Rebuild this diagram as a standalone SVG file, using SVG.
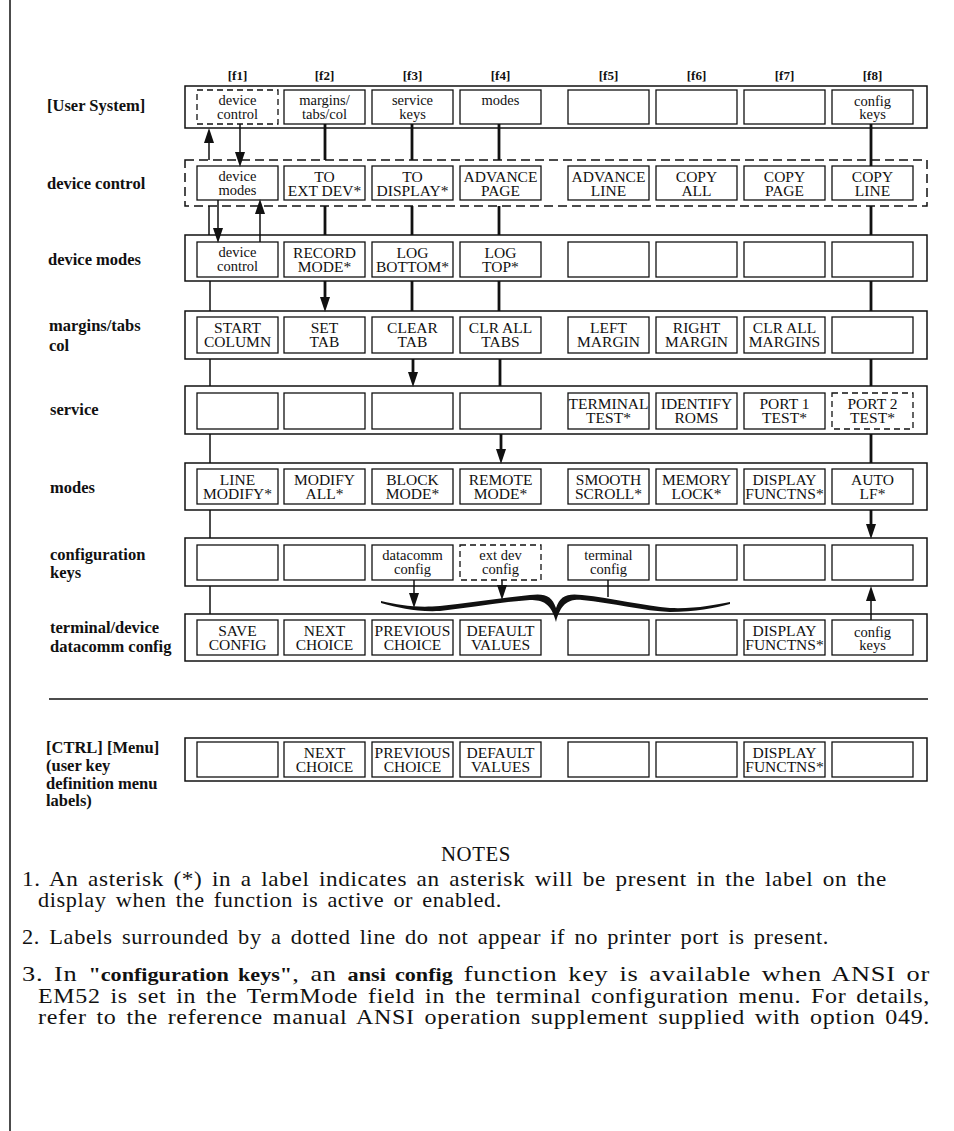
<svg xmlns="http://www.w3.org/2000/svg" width="954" height="1131" viewBox="0 0 954 1131">
<style>
text{font-family:"Liberation Serif","Times New Roman",serif;fill:#111}
.rl{font-size:16.5px;font-weight:bold}
.f{font-size:13px;font-weight:bold;text-anchor:middle}
.u{font-size:15.5px;text-anchor:middle}
.l{font-size:14.5px;text-anchor:middle}
.n{font-size:22px;letter-spacing:0.6px;word-spacing:3px}
.b{font-weight:bold;font-size:18.5px;letter-spacing:0}
.k{fill:none;stroke:#111;stroke-width:1.3}
.o{fill:none;stroke:#111;stroke-width:1.5}
.d{stroke-dasharray:6 4}
.od{stroke-dasharray:9 5}
.tn{stroke:#111;stroke-width:1.5;fill:none}
.tk{stroke:#111;stroke-width:2.8;fill:none}
.ar{marker-end:url(#ah)}
</style>
<defs>
<marker id="ah" markerUnits="userSpaceOnUse" markerWidth="15" markerHeight="10" refX="6" refY="5" orient="auto">
<path d="M0,0 L15,5 L0,10 z" fill="#111"/>
</marker>
</defs>
<rect width="954" height="1131" fill="#fff"/>
<line x1="10" y1="0" x2="10" y2="1131" class="o"/>

<g id="headers">
<text class="f" x="237.5" y="80">[f1]</text>
<text class="f" x="324.5" y="80">[f2]</text>
<text class="f" x="412.5" y="80">[f3]</text>
<text class="f" x="500.5" y="80">[f4]</text>
<text class="f" x="608.5" y="80">[f5]</text>
<text class="f" x="696.5" y="80">[f6]</text>
<text class="f" x="784.5" y="80">[f7]</text>
<text class="f" x="872.5" y="80">[f8]</text>
</g>

<g id="row-user-system">
<text class="rl" x="47" y="111">[User System]</text>
<rect class="o" x="185" y="86" width="742" height="42"/>
<g id="us1"><rect class="k d" x="197" y="90" width="81" height="34"/><text class="l" x="237.5" y="105">device</text><text class="l" x="237.5" y="119">control</text></g>
<g id="us2"><rect class="k" x="284" y="90" width="81" height="34"/><text class="l" x="324.5" y="105">margins/</text><text class="l" x="324.5" y="119">tabs/col</text></g>
<g id="us3"><rect class="k" x="372" y="90" width="81" height="34"/><text class="l" x="412.5" y="105">service</text><text class="l" x="412.5" y="119">keys</text></g>
<g id="us4"><rect class="k" x="460" y="90" width="81" height="34"/><text class="l" x="500.5" y="105">modes</text></g>
<g id="us5"><rect class="k" x="568" y="90" width="81" height="34"/></g>
<g id="us6"><rect class="k" x="656" y="90" width="81" height="34"/></g>
<g id="us7"><rect class="k" x="744" y="90" width="81" height="34"/></g>
<g id="us8"><rect class="k" x="832" y="90" width="81" height="34"/><text class="l" x="872.5" y="106">config</text><text class="l" x="872.5" y="119">keys</text></g>
</g>

<g id="row-device-control">
<text class="rl" x="47" y="189">device control</text>
<rect class="o od" x="185" y="160" width="742" height="46"/>
<g id="dc1"><rect class="k" x="197" y="166" width="81" height="34"/><text class="l" x="237.5" y="181">device</text><text class="l" x="237.5" y="195">modes</text></g>
<g id="dc2"><rect class="k" x="284" y="166" width="81" height="34"/><text class="u" x="324.5" y="182">TO</text><text class="u" x="324.5" y="196">EXT DEV*</text></g>
<g id="dc3"><rect class="k" x="372" y="166" width="81" height="34"/><text class="u" x="412.5" y="182">TO</text><text class="u" x="412.5" y="196">DISPLAY*</text></g>
<g id="dc4"><rect class="k" x="460" y="166" width="81" height="34"/><text class="u" x="500.5" y="182">ADVANCE</text><text class="u" x="500.5" y="196">PAGE</text></g>
<g id="dc5"><rect class="k" x="568" y="166" width="81" height="34"/><text class="u" x="608.5" y="182">ADVANCE</text><text class="u" x="608.5" y="196">LINE</text></g>
<g id="dc6"><rect class="k" x="656" y="166" width="81" height="34"/><text class="u" x="696.5" y="182">COPY</text><text class="u" x="696.5" y="196">ALL</text></g>
<g id="dc7"><rect class="k" x="744" y="166" width="81" height="34"/><text class="u" x="784.5" y="182">COPY</text><text class="u" x="784.5" y="196">PAGE</text></g>
<g id="dc8"><rect class="k" x="832" y="166" width="81" height="34"/><text class="u" x="872.5" y="182">COPY</text><text class="u" x="872.5" y="196">LINE</text></g>
</g>

<g id="row-device-modes">
<text class="rl" x="48" y="265">device modes</text>
<rect class="o" x="185" y="235" width="742" height="46"/>
<g id="dm1"><rect class="k" x="197" y="242" width="81" height="35"/><text class="l" x="237.5" y="257">device</text><text class="l" x="237.5" y="271">control</text></g>
<g id="dm2"><rect class="k" x="284" y="242" width="81" height="35"/><text class="u" x="324.5" y="258">RECORD</text><text class="u" x="324.5" y="272">MODE*</text></g>
<g id="dm3"><rect class="k" x="372" y="242" width="81" height="35"/><text class="u" x="412.5" y="258">LOG</text><text class="u" x="412.5" y="272">BOTTOM*</text></g>
<g id="dm4"><rect class="k" x="460" y="242" width="81" height="35"/><text class="u" x="500.5" y="258">LOG</text><text class="u" x="500.5" y="272">TOP*</text></g>
<g id="dm5"><rect class="k" x="568" y="242" width="81" height="35"/></g>
<g id="dm6"><rect class="k" x="656" y="242" width="81" height="35"/></g>
<g id="dm7"><rect class="k" x="744" y="242" width="81" height="35"/></g>
<g id="dm8"><rect class="k" x="832" y="242" width="81" height="35"/></g>
</g>

<g id="row-margins">
<text class="rl" x="49" y="331">margins/tabs</text>
<text class="rl" x="49" y="351">col</text>
<rect class="o" x="185" y="311" width="742" height="48"/>
<g id="mt1"><rect class="k" x="197" y="317" width="81" height="36"/><text class="u" x="237.5" y="333">START</text><text class="u" x="237.5" y="347">COLUMN</text></g>
<g id="mt2"><rect class="k" x="284" y="317" width="81" height="36"/><text class="u" x="324.5" y="333">SET</text><text class="u" x="324.5" y="347">TAB</text></g>
<g id="mt3"><rect class="k" x="372" y="317" width="81" height="36"/><text class="u" x="412.5" y="333">CLEAR</text><text class="u" x="412.5" y="347">TAB</text></g>
<g id="mt4"><rect class="k" x="460" y="317" width="81" height="36"/><text class="u" x="500.5" y="333">CLR ALL</text><text class="u" x="500.5" y="347">TABS</text></g>
<g id="mt5"><rect class="k" x="568" y="317" width="81" height="36"/><text class="u" x="608.5" y="333">LEFT</text><text class="u" x="608.5" y="347">MARGIN</text></g>
<g id="mt6"><rect class="k" x="656" y="317" width="81" height="36"/><text class="u" x="696.5" y="333">RIGHT</text><text class="u" x="696.5" y="347">MARGIN</text></g>
<g id="mt7"><rect class="k" x="744" y="317" width="81" height="36"/><text class="u" x="784.5" y="333">CLR ALL</text><text class="u" x="784.5" y="347">MARGINS</text></g>
<g id="mt8"><rect class="k" x="832" y="317" width="81" height="36"/></g>
</g>

<g id="row-service">
<text class="rl" x="50" y="415">service</text>
<rect class="o" x="185" y="386" width="742" height="48"/>
<g id="sv1"><rect class="k" x="197" y="393" width="81" height="36"/></g>
<g id="sv2"><rect class="k" x="284" y="393" width="81" height="36"/></g>
<g id="sv3"><rect class="k" x="372" y="393" width="81" height="36"/></g>
<g id="sv4"><rect class="k" x="460" y="393" width="81" height="36"/></g>
<g id="sv5"><rect class="k" x="568" y="393" width="81" height="36"/><text class="u" x="608.5" y="409">TERMINAL</text><text class="u" x="608.5" y="423">TEST*</text></g>
<g id="sv6"><rect class="k" x="656" y="393" width="81" height="36"/><text class="u" x="696.5" y="409">IDENTIFY</text><text class="u" x="696.5" y="423">ROMS</text></g>
<g id="sv7"><rect class="k" x="744" y="393" width="81" height="36"/><text class="u" x="784.5" y="409">PORT 1</text><text class="u" x="784.5" y="423">TEST*</text></g>
<g id="sv8"><rect class="k d" x="832" y="393" width="81" height="36"/><text class="u" x="872.5" y="409">PORT 2</text><text class="u" x="872.5" y="423">TEST*</text></g>
</g>

<g id="row-modes">
<text class="rl" x="50" y="493">modes</text>
<rect class="o" x="185" y="463" width="742" height="47"/>
<g id="md1"><rect class="k" x="197" y="469" width="81" height="35"/><text class="u" x="237.5" y="485">LINE</text><text class="u" x="237.5" y="499">MODIFY*</text></g>
<g id="md2"><rect class="k" x="284" y="469" width="81" height="35"/><text class="u" x="324.5" y="485">MODIFY</text><text class="u" x="324.5" y="499">ALL*</text></g>
<g id="md3"><rect class="k" x="372" y="469" width="81" height="35"/><text class="u" x="412.5" y="485">BLOCK</text><text class="u" x="412.5" y="499">MODE*</text></g>
<g id="md4"><rect class="k" x="460" y="469" width="81" height="35"/><text class="u" x="500.5" y="485">REMOTE</text><text class="u" x="500.5" y="499">MODE*</text></g>
<g id="md5"><rect class="k" x="568" y="469" width="81" height="35"/><text class="u" x="608.5" y="485">SMOOTH</text><text class="u" x="608.5" y="499">SCROLL*</text></g>
<g id="md6"><rect class="k" x="656" y="469" width="81" height="35"/><text class="u" x="696.5" y="485">MEMORY</text><text class="u" x="696.5" y="499">LOCK*</text></g>
<g id="md7"><rect class="k" x="744" y="469" width="81" height="35"/><text class="u" x="784.5" y="485">DISPLAY</text><text class="u" x="784.5" y="499">FUNCTNS*</text></g>
<g id="md8"><rect class="k" x="832" y="469" width="81" height="35"/><text class="u" x="872.5" y="485">AUTO</text><text class="u" x="872.5" y="499">LF*</text></g>
</g>

<g id="row-config-keys">
<text class="rl" x="50" y="560">configuration</text>
<text class="rl" x="50" y="578">keys</text>
<rect class="o" x="185" y="538" width="742" height="48"/>
<g id="ck1"><rect class="k" x="197" y="545" width="81" height="35"/></g>
<g id="ck2"><rect class="k" x="284" y="545" width="81" height="35"/></g>
<g id="ck3"><rect class="k" x="372" y="545" width="81" height="35"/><text class="l" x="412.5" y="560">datacomm</text><text class="l" x="412.5" y="574">config</text></g>
<g id="ck4"><rect class="k d" x="460" y="545" width="81" height="35"/><text class="l" x="500.5" y="560">ext dev</text><text class="l" x="500.5" y="574">config</text></g>
<g id="ck5"><rect class="k" x="568" y="545" width="81" height="35"/><text class="l" x="608.5" y="560">terminal</text><text class="l" x="608.5" y="574">config</text></g>
<g id="ck6"><rect class="k" x="656" y="545" width="81" height="35"/></g>
<g id="ck7"><rect class="k" x="744" y="545" width="81" height="35"/></g>
<g id="ck8"><rect class="k" x="832" y="545" width="81" height="35"/></g>
</g>

<g id="row-terminal-device">
<text class="rl" x="50" y="633">terminal/device</text>
<text class="rl" x="50" y="652">datacomm config</text>
<rect class="o" x="185" y="614" width="742" height="47"/>
<g id="td1"><rect class="k" x="197" y="620" width="81" height="35"/><text class="u" x="237.5" y="636">SAVE</text><text class="u" x="237.5" y="650">CONFIG</text></g>
<g id="td2"><rect class="k" x="284" y="620" width="81" height="35"/><text class="u" x="324.5" y="636">NEXT</text><text class="u" x="324.5" y="650">CHOICE</text></g>
<g id="td3"><rect class="k" x="372" y="620" width="81" height="35"/><text class="u" x="412.5" y="636">PREVIOUS</text><text class="u" x="412.5" y="650">CHOICE</text></g>
<g id="td4"><rect class="k" x="460" y="620" width="81" height="35"/><text class="u" x="500.5" y="636">DEFAULT</text><text class="u" x="500.5" y="650">VALUES</text></g>
<g id="td5"><rect class="k" x="568" y="620" width="81" height="35"/></g>
<g id="td6"><rect class="k" x="656" y="620" width="81" height="35"/></g>
<g id="td7"><rect class="k" x="744" y="620" width="81" height="35"/><text class="u" x="784.5" y="636">DISPLAY</text><text class="u" x="784.5" y="650">FUNCTNS*</text></g>
<g id="td8"><rect class="k" x="832" y="620" width="81" height="35"/><text class="l" x="872.5" y="637">config</text><text class="l" x="872.5" y="650">keys</text></g>
</g>

<line x1="49" y1="699" x2="928" y2="699" class="o"/>

<g id="row-ctrl-menu">
<text class="rl" x="46" y="753">[CTRL] [Menu]</text>
<text class="rl" x="46" y="771">(user key</text>
<text class="rl" x="46" y="789">definition menu</text>
<text class="rl" x="46" y="806">labels)</text>
<rect class="o" x="185" y="738" width="742" height="43"/>
<g id="cm1"><rect class="k" x="197" y="742" width="81" height="35"/></g>
<g id="cm2"><rect class="k" x="284" y="742" width="81" height="35"/><text class="u" x="324.5" y="758">NEXT</text><text class="u" x="324.5" y="772">CHOICE</text></g>
<g id="cm3"><rect class="k" x="372" y="742" width="81" height="35"/><text class="u" x="412.5" y="758">PREVIOUS</text><text class="u" x="412.5" y="772">CHOICE</text></g>
<g id="cm4"><rect class="k" x="460" y="742" width="81" height="35"/><text class="u" x="500.5" y="758">DEFAULT</text><text class="u" x="500.5" y="772">VALUES</text></g>
<g id="cm5"><rect class="k" x="568" y="742" width="81" height="35"/></g>
<g id="cm6"><rect class="k" x="656" y="742" width="81" height="35"/></g>
<g id="cm7"><rect class="k" x="744" y="742" width="81" height="35"/><text class="u" x="784.5" y="758">DISPLAY</text><text class="u" x="784.5" y="772">FUNCTNS*</text></g>
<g id="cm8"><rect class="k" x="832" y="742" width="81" height="35"/></g>
</g>

<g id="connectors">
<line class="tn ar" x1="209" y1="160" x2="209" y2="137"/>
<line class="tn ar" x1="240" y1="124" x2="240" y2="158"/>
<line class="tn" x1="209" y1="206" x2="209" y2="235"/>
<line class="tn ar" x1="218" y1="200" x2="218" y2="234"/>
<line class="tn ar" x1="260" y1="242" x2="260" y2="208"/>
<line class="tn" x1="210" y1="281" x2="210" y2="311"/>
<line class="tn" x1="210" y1="359" x2="210" y2="386"/>
<line class="tn" x1="210" y1="434" x2="210" y2="463"/>
<line class="tn" x1="210" y1="510" x2="210" y2="538"/>
<line class="tn" x1="210" y1="586" x2="210" y2="614"/>
<line class="tk" x1="325" y1="124" x2="325" y2="160"/>
<line class="tk" x1="325" y1="206" x2="325" y2="235"/>
<line class="tk ar" x1="325" y1="281" x2="325" y2="303"/>
<line class="tk" x1="412" y1="124" x2="412" y2="160"/>
<line class="tk" x1="412" y1="206" x2="412" y2="235"/>
<line class="tk" x1="412" y1="281" x2="412" y2="311"/>
<line class="tk ar" x1="413" y1="359" x2="413" y2="378"/>
<line class="tk" x1="499" y1="124" x2="499" y2="160"/>
<line class="tk" x1="499" y1="206" x2="499" y2="235"/>
<line class="tk" x1="499" y1="281" x2="499" y2="311"/>
<line class="tk" x1="500" y1="359" x2="500" y2="386"/>
<line class="tk ar" x1="501" y1="434" x2="501" y2="455"/>
<line class="tk" x1="871" y1="124" x2="871" y2="166"/>
<line class="tk" x1="871" y1="206" x2="871" y2="235"/>
<line class="tk" x1="871" y1="281" x2="871" y2="311"/>
<line class="tk" x1="871" y1="359" x2="871" y2="386"/>
<line class="tk" x1="871" y1="434" x2="871" y2="463"/>
<line class="tk ar" x1="871" y1="510" x2="871" y2="530"/>
<line class="tn ar" x1="871" y1="620" x2="871" y2="595"/>
<path d="M381,601 C400,605 415,608 440,606 C470,603 500,598 530,595 C545,593 552,596 556,608 C560,596 567,593 582,595 C612,598 645,606 670,608 C695,609 715,605 730,602 L730,604 C715,608 695,612 670,612 C645,611 612,603 582,600 C569,599 561,603 556,622 C551,603 543,600 530,600 C500,602 470,608 440,611 C415,612 400,608 381,603 Z" fill="#111"/>
<line class="tn ar" x1="414" y1="580" x2="414" y2="599"/>
<line class="tn ar" x1="502" y1="580" x2="502" y2="591"/>
<line class="tn" x1="608" y1="580" x2="608" y2="597"/>
</g>

<g id="notes">
<text class="n" x="476" y="861" text-anchor="middle" letter-spacing="0" textLength="70" lengthAdjust="spacingAndGlyphs">NOTES</text>
<text class="n" x="22" y="886" textLength="865" lengthAdjust="spacingAndGlyphs">1. An asterisk (*) in a label indicates an asterisk will be present in the label on the</text>
<text class="n" x="38" y="907" textLength="464" lengthAdjust="spacingAndGlyphs">display when the function is active or enabled.</text>
<text class="n" x="22" y="944" textLength="807" lengthAdjust="spacingAndGlyphs">2. Labels surrounded by a dotted line do not appear if no printer port is present.</text>
<text class="n" x="22" y="981" textLength="908" lengthAdjust="spacingAndGlyphs">3. In <tspan class="b">"configuration keys"</tspan>, an <tspan class="b">ansi config</tspan> function key is available when ANSI or</text>
<text class="n" x="38" y="1003" textLength="892" lengthAdjust="spacingAndGlyphs">EM52 is set in the TermMode field in the terminal configuration menu. For details,</text>
<text class="n" x="38" y="1024" textLength="892" lengthAdjust="spacingAndGlyphs">refer to the reference manual ANSI operation supplement supplied with option 049.</text>
</g>
</svg>
